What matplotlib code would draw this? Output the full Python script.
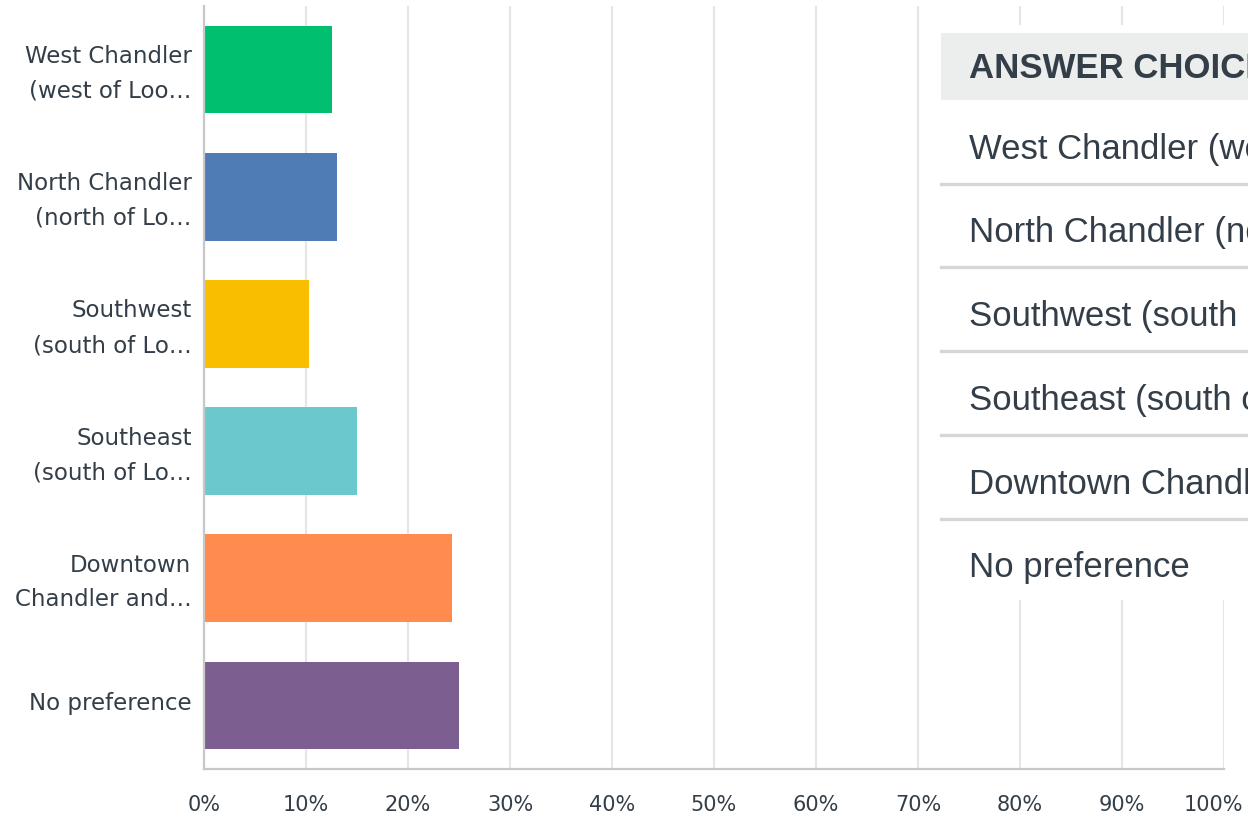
import matplotlib.pyplot as plt
from matplotlib.patches import Rectangle
from matplotlib.lines import Line2D
from matplotlib.transforms import ScaledTranslation

# datos del gráfico
etiquetas = ["West Chandler\n(west of Loo…", "North Chandler\n(north of Lo…",
             "Southwest\n(south of Lo…", "Southeast\n(south of Lo…",
             "Downtown\nChandler and…", "No preference"]
opciones = ["West Chandler (west of Loop 101)", "North Chandler (north of Loop 202)",
            "Southwest (south of Loop 202, west of Arizona Ave)",
            "Southeast (south of Loop 202, east of Arizona Ave)",
            "Downtown Chandler and surrounding area", "No preference"]
porcentajes = [12.5, 13.0, 10.3, 15.0, 24.3, 25.0]
colores = ["#00bf6f", "#507cb6", "#f9be00", "#6bc8cd", "#ff8b4f", "#7d5e90"]
ticks = list(range(0, 101, 10))
tick_labels = [f"{t}%" for t in ticks]

W, H = 1248, 818
fig = plt.figure(figsize=(W / 100, H / 100), dpi=100)
ax = fig.add_axes([204 / W, 1 - 769 / H, 1020 / W, 763 / H])

y = list(range(len(etiquetas)))
ax.barh(y, porcentajes, height=0.69, color=colores, zorder=2)
ax.set_ylim(len(etiquetas) - 0.5, -0.5)
ax.set_xlim(0, 100)
ax.set_yticks(y)
ax.set_yticklabels(etiquetas, fontsize=16.5, color="#333e48", linespacing=1.65,
                   multialignment="right", family="DejaVu Sans")
ax.set_xticks(ticks)
ax.set_xticklabels(tick_labels, fontsize=15, color="#333e48", family="DejaVu Sans")
ax.tick_params(axis="y", length=0, pad=9)
ax.tick_params(axis="x", length=0, pad=19)
ax.grid(axis="x", color="#e6e6e6", lw=1.5, zorder=0)
for s in ["top", "right"]:
    ax.spines[s].set_visible(False)
for s in ["left", "bottom"]:
    ax.spines[s].set_color("#c8c8c8")
    ax.spines[s].set_linewidth(1.6)

# pequeños ajustes de posición de las etiquetas
sube = ScaledTranslation(0, 4 / 100, fig.dpi_scale_trans)
for lbl in ax.get_yticklabels():
    lbl.set_transform(lbl.get_transform() + sube)
ultima = ax.get_xticklabels()[-1]
ultima.set_transform(ultima.get_transform() + ScaledTranslation(-11 / 100, 0, fig.dpi_scale_trans))

# tabla superpuesta a la derecha
def fx(px):
    return px / W

def fy(py):
    return 1 - py / H

fig.add_artist(Rectangle((fx(925), fy(600)), 1 - fx(925), fy(25) - fy(600),
                         transform=fig.transFigure, facecolor="white",
                         edgecolor="none", zorder=1))
fig.add_artist(Rectangle((fx(941), fy(100)), 1 - fx(941), fy(33) - fy(100),
                         transform=fig.transFigure, facecolor="#eceeee",
                         edgecolor="none", zorder=1.5))
fig.text(fx(969), fy(69), "ANSWER CHOICES", fontsize=25, fontweight="bold",
         color="#333e48", va="center", ha="left", family="Liberation Sans", zorder=3)

paso = 83.8
for i, texto in enumerate(opciones):
    yc = 149 + i * paso
    fig.text(fx(969), fy(yc), texto, fontsize=25, color="#333e48",
             va="center", ha="left", family="Liberation Sans", zorder=3)
    if i < len(opciones) - 1:
        ys = fy(yc + 34.5)
        fig.add_artist(Line2D([fx(941), 1], [ys, ys], transform=fig.transFigure,
                              color="#d5d6d7", lw=2.4, zorder=2))

fig.savefig("out.png", dpi=100)
